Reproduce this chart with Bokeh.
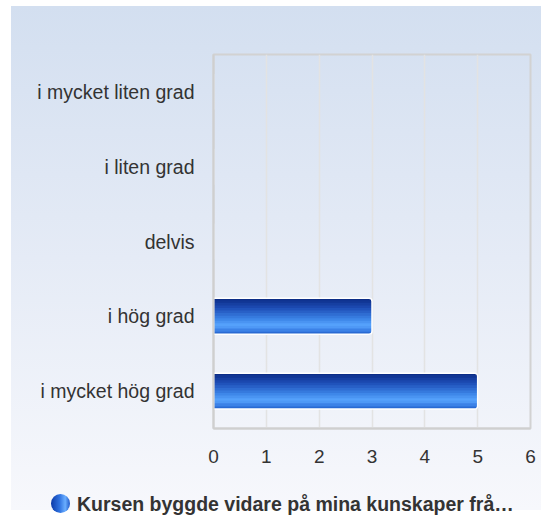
from bokeh.plotting import figure
from bokeh.models import ColumnDataSource, Range1d, FactorRange, Div
from bokeh.layouts import column
from bokeh.transform import dodge
from bokeh.embed import file_html
from bokeh.resources import INLINE

# ---- data ----
categories = ["i mycket hög grad", "i hög grad", "delvis", "i liten grad", "i mycket liten grad"]
counts = [5, 3, 0, 0, 0]
x_ticks = [0, 1, 2, 3, 4, 5, 6]
series_name = "Kursen byggde vidare på mina kunskaper frå…"

src = ColumnDataSource(data=dict(cat=categories, val=counts))

p = figure(width=541, height=480, output_backend="svg", toolbar_location=None,
           y_range=FactorRange(factors=categories, range_padding=0),
           x_range=Range1d(0, 6),
           min_border_left=213, min_border_right=11, min_border_top=54, min_border_bottom=52)

p.border_fill_color = None
p.background_fill_color = None

p.outline_line_color = "#d2d2d2"
p.outline_line_width = 2

# ---- gradient bars made of stripes ----
bar_h = 0.48
stops = [(0.0, (10, 40, 128)), (0.3, (30, 79, 184)), (0.6, (61, 134, 232)),
         (0.78, (90, 166, 255)), (0.9, (58, 128, 230)), (1.0, (31, 94, 200))]

def col_at(t):
    for (t0, c0), (t1, c1) in zip(stops[:-1], stops[1:]):
        if t0 <= t <= t1:
            f = (t - t0) / (t1 - t0) if t1 > t0 else 0
            return "#%02x%02x%02x" % tuple(int(round(a + (b - a) * f)) for a, b in zip(c0, c1))
    return "#%02x%02x%02x" % stops[-1][1]

N = 14
sh = bar_h / N
for i in range(N):
    off = bar_h / 2 - (i + 0.5) * sh
    hh = sh * 1.5 if 0 < i < N - 1 else sh
    kw = {}
    if i == 0:
        kw["border_radius"] = (0, 3, 0, 0)
    elif i == N - 1:
        kw["border_radius"] = (0, 0, 3, 0)
    p.hbar(y=dodge("cat", off, range=p.y_range), right="val", left=0, height=hh,
           source=src, fill_color=col_at((i + 0.5) / N), line_color=None, **kw)

p.hbar(y="cat", right="val", left=0, height=bar_h, source=src, fill_color=None,
       line_color="white", line_width=1.5, border_radius=(0, 3, 3, 0))

# ---- axes ----
p.xaxis.ticker = x_ticks
p.xaxis.major_tick_line_color = None
p.xaxis.minor_tick_line_color = None
p.xaxis.axis_line_color = "#cfcfcf"
p.xaxis.axis_line_width = 2
p.xaxis.major_label_standoff = 15
p.xaxis.major_label_text_font = "Liberation Sans"
p.xaxis.major_label_text_font_size = "19px"
p.xaxis.major_label_text_color = "#333333"

p.yaxis.major_tick_line_color = None
p.yaxis.minor_tick_line_color = None
p.yaxis.axis_line_color = "#cfcfcf"
p.yaxis.axis_line_width = 2
p.yaxis.major_label_standoff = 13
p.yaxis.major_label_text_font = "Liberation Sans"
p.yaxis.major_label_text_font_size = "19.5px"
p.yaxis.major_label_text_color = "#333333"

p.xgrid.grid_line_color = "#e3e3e3"
p.xgrid.grid_line_width = 1.5
p.ygrid.grid_line_color = None

# ---- legend as an HTML row under the plot ----
marker = ('<span style="display:inline-block;width:19px;height:19px;border-radius:50%;'
          'vertical-align:middle;margin-right:7px;'
          'background:linear-gradient(to right,#0c3aa8 0%,#2f72e0 45%,#6aaeff 75%,#1f58c8 100%);"></span>')
legend_div = Div(
    text=marker + '<span style="vertical-align:middle;">' + series_name + '</span>',
    width=541, height=30,
    styles={"font-family": "Liberation Sans, Arial, sans-serif", "font-size": "19.5px",
            "font-weight": "bold", "color": "#333333", "padding-left": "46px",
            "padding-top": "5px", "line-height": "24px", "white-space": "nowrap",
            "box-sizing": "border-box"},
)

layout = column(p, legend_div, spacing=0, width=541, height=510,
                styles={
                    "background-image": "linear-gradient(to bottom, #d3dff0 0%, #e5ebf6 50%, #f7f8fc 100%)",
                    "background-repeat": "no-repeat",
                    "background-position": "11px 6px",
                    "background-size": "530px 504px",
                })

open("out.html", "w").write(file_html(layout, INLINE))
